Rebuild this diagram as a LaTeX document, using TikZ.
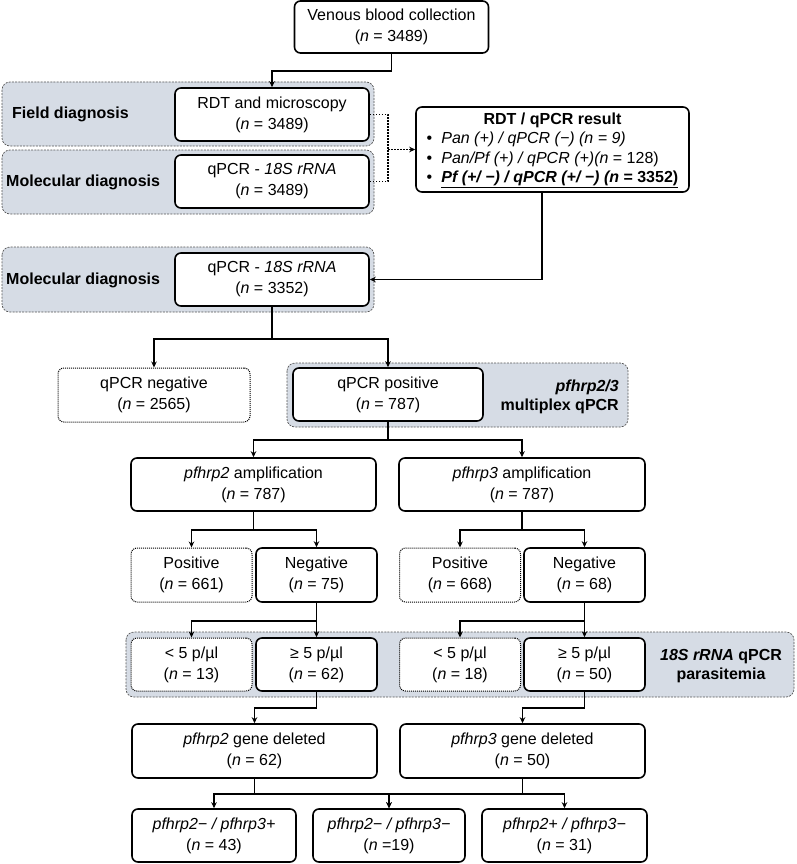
\documentclass[tikz,border=0pt]{standalone}
\usepackage{fontspec}
\setmainfont{Liberation Sans}
\usepackage{xcolor}
\usepackage{tikz}
\usetikzlibrary{arrows.meta,positioning}
\definecolor{bandfill}{RGB}{214,220,229}
\definecolor{bandline}{RGB}{85,85,85}

\begin{document}
\begin{tikzpicture}[x=1pt,y=-1pt,>={Stealth[length=6pt,width=5.5pt]},font=\fontsize{16}{21}\selectfont,
    box/.style={draw,rounded corners=6pt,line width=1.6pt,fill=white,align=center,inner sep=0pt},
    dotbox/.style={box,line width=1pt,dash pattern=on 1pt off 1pt},
    band/.style={fill=bandfill,draw=bandline,line width=0.7pt,dash pattern=on 2pt off 1.2pt,rounded corners=8pt},
    bandlbl/.style={font=\fontsize{16}{19}\selectfont\bfseries,inner sep=0pt},
    conn/.style={->,line width=1.8pt},
    dotconn/.style={line width=1.3pt,dash pattern=on 1.5pt off 1.5pt}]
    \useasboundingbox (0,0) rectangle (796,864);
    \draw[band] (2,82) rectangle (374,146);
    \draw[band] (2,150) rectangle (374,214);
    \draw[band] (2,247) rectangle (374,312);
    \draw[band] (287,363) rectangle (628,427);
    \draw[band] (126,632) rectangle (794,697);
    \node[bandlbl,anchor=west] (fieldlbl) at (12,114) {Field diagnosis};
    \node[bandlbl,anchor=west] (mol1lbl) at (6,182) {Molecular diagnosis};
    \node[bandlbl,anchor=west] (mol2lbl) at (6,280) {Molecular diagnosis};
    \node[bandlbl,anchor=east,align=right] (multilbl) at (619,396.5) {\textit{pfhrp2/3}\\multiplex qPCR};
    \node[bandlbl,align=center] (paralbl) at (721,666) {\textit{18S rRNA} qPCR\\parasitemia};

    \node[box,minimum width=194,minimum height=52] (venous) at (391.5,27) {Venous blood collection\\(\textit{n} = 3489)};
    \node[box,minimum width=194,minimum height=53] (rdt) at (272,114.5) {RDT and microscopy\\(\textit{n} = 3489)};
    \node[box,minimum width=194,minimum height=53] (qpcr1) at (272,181.5) {qPCR - \textit{18S rRNA}\\(\textit{n} = 3489)};
    \node[box,minimum width=273,minimum height=85,font=\fontsize{16}{19.5}\selectfont] (result) at (552.5,149.5) {\begin{tabular}{@{}l@{}}
      \multicolumn{1}{@{}c@{}}{\textbf{RDT / qPCR result}}\\
      \textbullet\hspace{9pt}\textit{Pan (+) / qPCR (−) (n = 9)}\\
      \textbullet\hspace{9pt}\textit{Pan/Pf (+) / qPCR (+)(n} = 128)\\
      \textbullet\hspace{9pt}\underline{\textbf{\textit{Pf (+/ −) / qPCR (+/ −) (n} = 3352)}}
    \end{tabular}};
    \node[box,minimum width=194,minimum height=53] (qpcr2) at (272,279.5) {qPCR - \textit{18S rRNA}\\(\textit{n} = 3352)};
    \node[dotbox,minimum width=192,minimum height=54] (neg) at (154,395) {qPCR negative\\(\textit{n} = 2565)};
    \node[box,minimum width=190,minimum height=53] (pos) at (388,394.5) {qPCR positive\\(\textit{n} = 787)};
    \node[box,minimum width=245,minimum height=53] (amp2) at (253.5,484.5) {\textit{pfhrp2} amplification\\(\textit{n} = 787)};
    \node[box,minimum width=246,minimum height=53] (amp3) at (522,484.5) {\textit{pfhrp3} amplification\\(\textit{n} = 787)};
    \foreach \nm/\cx/\st/\txt/\num in {ppos2/191.5/dotbox/Positive/661, pneg2/316.5/box/Negative/75,
                                       ppos3/460/dotbox/Positive/668, pneg3/584.5/box/Negative/68}
      \node[\st,minimum width=121,minimum height=54] (\nm) at (\cx,575) {\txt\\(\textit{n} = \num)};
    \foreach \nm/\cx/\st/\txt/\num in {low2/191.5/dotbox/{< 5 p/µl}/13, high2/316.5/box/{≥ 5 p/µl}/62,
                                       low3/460/dotbox/{< 5 p/µl}/18, high3/584.5/box/{≥ 5 p/µl}/50}
      \node[\st,minimum width=121,minimum height=53] (\nm) at (\cx,664.5) {\txt\\(\textit{n} = \num)};
    \node[box,minimum width=245,minimum height=54] (del2) at (254.5,751) {\textit{pfhrp2} gene deleted\\(\textit{n} = 62)};
    \node[box,minimum width=245,minimum height=54] (del3) at (522.5,751) {\textit{pfhrp3} gene deleted\\(\textit{n} = 50)};
    \node[box,minimum width=164,minimum height=53] (res1) at (214,835.5) {\textit{pfhrp2− / pfhrp3+}\\(\textit{n} = 43)};
    \node[box,minimum width=152,minimum height=53] (res2) at (389,835.5) {\textit{pfhrp2− / pfhrp3−}\\(\textit{n} =19)};
    \node[box,minimum width=165,minimum height=53] (res3) at (564.5,835.5) {\textit{pfhrp2+ / pfhrp3−}\\(\textit{n} = 31)};

    \draw[conn] (venous.south) -- ++(0,17) -| (rdt.north);
    \coordinate (dotj) at (388,149.5);
    \draw[dotconn] (rdt.east) -| (dotj) |- (qpcr1.east);
    \draw[dotconn,->,line width=1pt] (dotj) -- (result.west);
    \draw[conn] ([xshift=-10.5pt]result.south) |- (qpcr2.east);
    \foreach \a/\b/\c/\d in {qpcr2/neg/pos/32, pos/amp2/amp3/18, amp2/ppos2/pneg2/18, amp3/ppos3/pneg3/18,
                             pneg2/low2/high2/18, pneg3/low3/high3/18, del2/res1/res2/15, del3/res2/res3/15}{
      \draw[conn] (\a.south) -- ++(0,\d) -| (\b.north);
      \draw[conn] (\a.south) -- ++(0,\d) -| (\c.north);
    }
    \draw[conn] (high2.south) -- ++(0,16) -| (del2.north);
    \draw[conn] (high3.south) -- ++(0,16) -| (del3.north);
\end{tikzpicture}
\end{document}
